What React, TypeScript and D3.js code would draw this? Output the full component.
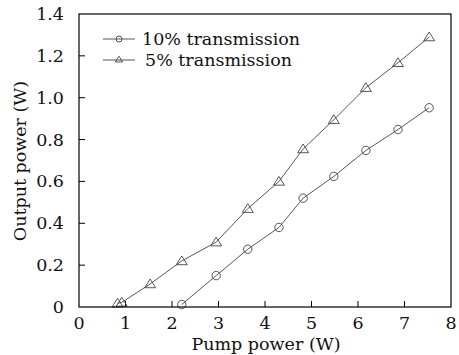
import React from "react";
import * as d3 from "d3";

const xTicks = [0, 1, 2, 3, 4, 5, 6, 7, 8];
const yTicks = [0, 0.2, 0.4, 0.6, 0.8, 1.0, 1.2, 1.4];
const yTickLabels = ["0", "0.2", "0.4", "0.6", "0.8", "1.0", "1.2", "1.4"];

const pump10 = [2.21, 2.95, 3.63, 4.3, 4.82, 5.48, 6.17, 6.86, 7.53];
const out10 = [0.012, 0.15, 0.276, 0.38, 0.52, 0.624, 0.748, 0.848, 0.952];

const pump5 = [0.83, 0.92, 1.53, 2.21, 2.95, 3.63, 4.3, 4.82, 5.48, 6.17, 6.86, 7.53];
const out5 = [0.018, 0.022, 0.11, 0.22, 0.31, 0.47, 0.6, 0.755, 0.895, 1.048, 1.167, 1.29];

const seriesNames = ["10% transmission", "5% transmission"];

const FONT = "'DejaVu Serif', serif";
const FS = 17.5;

export default function App() {
  const W = 459, H = 355;
  const left = 79, right = 451, top = 14, bottom = 307;
  const x = d3.scaleLinear().domain([0, 8]).range([left, right]);
  const y = d3.scaleLinear().domain([0, 1.4]).range([bottom, top]);
  const line = d3.line<[number, number]>().x(d => x(d[0])).y(d => y(d[1]));
  const d10: [number, number][] = pump10.map((p, i) => [p, out10[i]]);
  const d5: [number, number][] = pump5.map((p, i) => [p, out5[i]]);
  const stroke = "#444";
  const tri = (cx: number, cy: number, s: number) =>
    `M${cx},${cy - s}L${cx + s * 1.1},${cy + s * 0.75}L${cx - s * 1.1},${cy + s * 0.75}Z`;

  return (
    <svg width={W} height={H} style={{ position: "absolute", left: 0, top: 0, background: "#fff" }}>
      <rect x={0} y={0} width={W} height={H} fill="#fff" />
      {xTicks.slice(1, -1).map(t => (
        <line key={"xt" + t} x1={x(t)} x2={x(t)} y1={bottom} y2={bottom - 6} stroke="#000" strokeWidth={1} />
      ))}
      {yTicks.slice(1, -1).map(t => (
        <line key={"yt" + t} x1={left} x2={left + 6} y1={y(t)} y2={y(t)} stroke="#000" strokeWidth={1} />
      ))}
      <path d={line(d10) || ""} fill="none" stroke={stroke} strokeWidth={0.9} />
      <path d={line(d5) || ""} fill="none" stroke={stroke} strokeWidth={0.9} />
      {d10.map((d, i) => (
        <circle key={"c" + i} cx={x(d[0])} cy={y(d[1])} r={4.2} fill="none" stroke={stroke} strokeWidth={0.9} />
      ))}
      {d5.map((d, i) => (
        <path key={"t" + i} d={tri(x(d[0]), y(d[1]), 5)} fill="none" stroke={stroke} strokeWidth={0.9} />
      ))}
      <rect x={left} y={top} width={right - left} height={bottom - top} fill="none" stroke="#000" strokeWidth={1.2} />
      {xTicks.map(t => (
        <text key={"xl" + t} x={x(t)} y={329} textAnchor="middle" fontFamily={FONT} fontSize={FS} fill="#111">
          {t}
        </text>
      ))}
      {yTicks.map((t, i) => (
        <text key={"yl" + t} x={64} y={y(t) + 6} textAnchor="end" fontFamily={FONT} fontSize={FS} fill="#111">
          {yTickLabels[i]}
        </text>
      ))}
      <text x={266} y={350} textAnchor="middle" fontFamily={FONT} fontSize={FS} fill="#111">
        Pump power (W)
      </text>
      <text transform={`translate(26,161) rotate(-90)`} textAnchor="middle" fontFamily={FONT} fontSize={FS} fill="#111">
        Output power (W)
      </text>
      <line x1={103} x2={135} y1={39} y2={39} stroke={stroke} strokeWidth={0.9} />
      <circle cx={119} cy={39} r={3} fill="none" stroke={stroke} strokeWidth={0.9} />
      <text x={142} y={45} fontFamily={FONT} fontSize={FS} fill="#111">{seriesNames[0]}</text>
      <line x1={103} x2={135} y1={60} y2={60} stroke={stroke} strokeWidth={0.9} />
      <path d={tri(119, 59.5, 3.3)} fill="none" stroke={stroke} strokeWidth={0.9} />
      <text x={145} y={66} fontFamily={FONT} fontSize={FS} fill="#111">{seriesNames[1]}</text>
    </svg>
  );
}
